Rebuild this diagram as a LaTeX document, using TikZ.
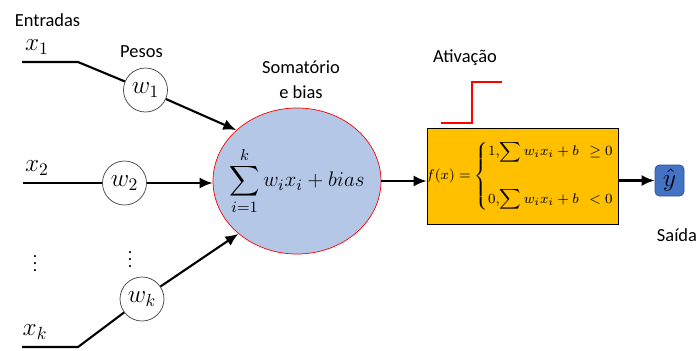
\documentclass[tikz,border=0pt]{standalone}
\usepackage{amsmath}
\usepackage[no-math]{fontspec}
\setmainfont{Carlito}
\usetikzlibrary{shapes,arrows.meta,positioning,calc}
\definecolor{skyblue}{HTML}{B4C7E7}
\definecolor{amber}{HTML}{FFC000}
\definecolor{royal}{HTML}{4472C4}
\definecolor{deeproyal}{HTML}{2F528F}
\definecolor{stepred}{HTML}{FF0000}

\tikzset{
  peso/.style={circle, draw=black!75, thin, fill=white, minimum size=0.88cm, inner sep=0pt, font=\fontsize{14.5}{16}\selectfont},
  linha/.style={line width=1.2pt},
  seta/.style={linha, -{Latex[length=2.6mm,width=2.2mm]}},
  rotulo/.style={font=\fontsize{10.5}{14}\selectfont},
  entrada/.style={font=\fontsize{14.5}{16}\selectfont}
}

\begin{document}
\begin{tikzpicture}
\useasboundingbox (0,0) rectangle (14,7);

\node[rotulo] (entradas) at (0.95,6.6) {Entradas};
\node[rotulo] (pesos) at (2.83,5.97) {Pesos};
\node[rotulo, align=center] (somalbl) at (6.02,5.4) {Somatório\\e bias};
\node[rotulo] (ativlbl) at (9.3,5.85) {Ativação};
\node[rotulo] (saida) at (13.54,2.3) {Saída};

\node[entrada] (x1) at (0.74,6.06) {$x_1$};
\node[entrada] (x2) at (0.74,3.64) {$x_2$};
\node[entrada] (xk) at (0.7,0.36) {$x_k$};
\node[inner sep=0pt] (dots1) at (0.7,1.84) {$\vdots$};
\node[inner sep=0pt] (dots2) at (2.6,1.92) {$\vdots$};

\coordinate (in1) at (0.44,5.76);
\coordinate (in1b) at (1.56,5.76);
\coordinate (in2) at (0.46,3.34);
\coordinate (ink) at (0.44,0.06);
\coordinate (inkb) at (1.56,0.06);

\node[peso] (w1) at (2.91,5.2) {$w_1$};
\node[peso] (w2) at (2.49,3.34) {$w_2$};
\node[peso] (wk) at (2.84,1.02) {$w_k$};

\node[ellipse, draw=red, thin, fill=skyblue, minimum width=3.36cm, minimum height=2.92cm, inner sep=0pt]
  (soma) at (5.94,3.38) {};
\node[font=\fontsize{13}{15}\selectfont, inner sep=0pt] (somaexpr) at (soma) {$\displaystyle\sum_{i=1}^{k} w_i x_i + bias$};

\node[draw=black, thin, fill=amber, minimum width=3.82cm, minimum height=1.92cm] (ativ) at (10.45,3.48) {};
\node[font=\fontsize{8}{10}\selectfont, inner sep=0pt] (ativexpr) at ([xshift=0.1cm]ativ)
  {$f(x) = \begin{cases} 1,\! \displaystyle\sum w_i x_i + b\;\, \ge 0 \\[15pt] 0,\! \displaystyle\sum w_i x_i + b\;\, < 0 \end{cases}$};

\node[fill=royal, draw=deeproyal, rounded corners=2.5pt, minimum width=0.58cm, minimum height=0.62cm, inner sep=0pt,
  font=\fontsize{14}{16}\selectfont] (yhat) at (13.39,3.39) {$\hat{y}$};

\draw[stepred, line width=1.6pt] (8.82,4.54) -- (9.44,4.54) -- (9.44,5.36) -- (10.04,5.36);

\draw[linha] (in1) -- (in1b) -- (w1);
\draw[seta] (w1) -- (soma.140);
\draw[linha] (in2) -- (w2);
\draw[seta] (w2) -- (soma.west |- w2);
\draw[linha] (ink) -- (inkb) -- (wk);
\draw[seta] (wk) -- (soma.222);
\draw[seta] (soma.east) -- (soma.east -| ativ.west);
\draw[seta] (ativ.east |- yhat) -- (yhat);
\end{tikzpicture}
\end{document}
